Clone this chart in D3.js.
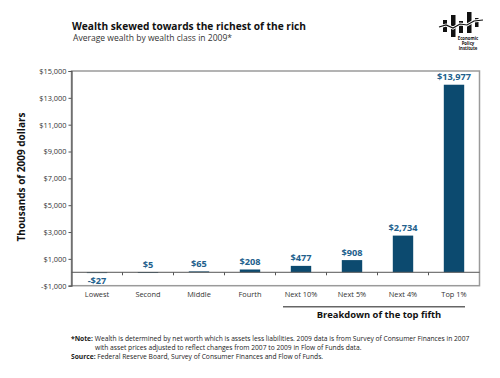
<!DOCTYPE html>
<html><head><meta charset="utf-8">
<script src="https://cdn.jsdelivr.net/npm/d3@7"></script>
<style>body{margin:0;background:#fff}svg{display:block}text{font-family:"Open Sans",sans-serif}</style>
</head><body><svg id="c" width="500" height="378"></svg>
<script>
const categories = ["Lowest","Second","Middle","Fourth","Next 10%","Next 5%","Next 4%","Top 1%"];
const values = [-27,5,65,208,477,908,2734,13977];
const valueLabels = ["-$27","$5","$65","$208","$477","$908","$2,734","$13,977"];
const yTicks = [-1000,1000,3000,5000,7000,9000,11000,13000,15000];

const svg = d3.select("#c");
const L=71.5,R=479.5,T=71,B=285.7;
const x = d3.scaleBand().domain(categories).range([L,R]).paddingInner(0.6).paddingOuter(0.3);
const y = d3.scaleLinear().domain([-1000,15000]).range([B,T]);
const barColor="#0c4a6f", labColor="#22608c";

// titles
svg.append("text").attr("x",72).attr("y",29.5).attr("font-size",11.4).attr("font-weight","bold").attr("fill","#111")
  .attr("textLength",234).attr("lengthAdjust","spacingAndGlyphs")
  .text("Wealth skewed towards the richest of the rich");
svg.append("text").attr("x",73).attr("y",41).attr("font-size",9.3).attr("fill","#333")
  .attr("textLength",159).attr("lengthAdjust","spacingAndGlyphs")
  .text("Average wealth by wealth class in 2009*");

// logo
const lg=svg.append("g");
[[443,20,4,12],[451,15,4.5,22],[459,21,4,12],[467,12,4.5,21],[475,18,3.5,9]].forEach(r=>
  lg.append("rect").attr("x",r[0]).attr("y",r[1]).attr("width",r[2]).attr("height",r[3]).attr("fill","#111"));
const lp="M439,27 L446,25 L453,28 L460,24 L467,25 L474,21 L483,20";
lg.append("path").attr("d",lp).attr("fill","none").attr("stroke","#fff").attr("stroke-width",3);
lg.append("path").attr("d",lp).attr("fill","none").attr("stroke","#111").attr("stroke-width",1.2);
["Economic","Policy","Institute"].forEach((t,i)=>
  lg.append("text").attr("x",468).attr("y",40+i*5).attr("text-anchor","middle").attr("font-size",4.3)
    .attr("font-weight","bold").attr("fill","#111").text(t));

// frame
svg.append("rect").attr("x",L).attr("y",T).attr("width",R-L).attr("height",B-T)
  .attr("fill","none").attr("stroke","#9a9a9a").attr("stroke-width",1.5);

// y axis
const ya = svg.append("g").attr("transform",`translate(${L},0)`)
  .call(d3.axisLeft(y).tickValues(yTicks).tickSize(3).tickPadding(2).tickFormat(d=>(d<0?"-$":"$")+d3.format(",")(Math.abs(d))));
ya.select(".domain").attr("stroke","#555").attr("stroke-width",1.2);
ya.selectAll(".tick line").attr("stroke","#555");
ya.selectAll(".tick text").attr("font-size",7.4).attr("fill","#333").attr("font-family","'Open Sans',sans-serif");

svg.append("text").attr("transform","translate(25,177) rotate(-90)").attr("text-anchor","middle")
  .attr("font-size",10).attr("font-weight","bold").attr("fill","#111").text("Thousands of 2009 dollars");

// bars
svg.append("g").selectAll("rect").data(values).join("rect")
  .attr("x",(d,i)=>x(categories[i])).attr("width",x.bandwidth())
  .attr("y",d=>y(Math.max(0,d))).attr("height",d=>Math.max(0.8,Math.abs(y(d)-y(0))))
  .attr("fill",barColor);

// zero line
svg.append("line").attr("x1",L).attr("x2",R).attr("y1",y(0)).attr("y2",y(0)).attr("stroke","#555").attr("stroke-width",1);
// category boundary ticks
const step = x.step();
d3.range(1,categories.length).forEach(k=>{
  const xx = L + k*step;
  svg.append("line").attr("x1",xx).attr("x2",xx).attr("y1",y(0)).attr("y2",y(0)+3).attr("stroke","#555");
});

// value labels
svg.append("g").selectAll("text").data(values).join("text")
  .attr("x",(d,i)=>x(categories[i])+x.bandwidth()/2)
  .attr("y",d=> d<0 ? y(0)+12 : y(d)-4.5)
  .attr("text-anchor","middle").attr("font-size",9.2).attr("font-weight","bold").attr("fill",labColor)
  .text((d,i)=>valueLabels[i]);

// category labels
svg.append("g").selectAll("text").data(categories).join("text")
  .attr("x",d=>x(d)+x.bandwidth()/2).attr("y",297)
  .attr("text-anchor","middle").attr("font-size",7.4).attr("fill","#333").text(d=>d);

// breakdown bracket
svg.append("line").attr("x1",283).attr("x2",465).attr("y1",306.7).attr("y2",306.7).attr("stroke","#666").attr("stroke-width",1.5);
svg.append("text").attr("x",379).attr("y",318).attr("text-anchor","middle").attr("font-size",9.4)
  .attr("font-weight","bold").attr("fill","#111").text("Breakdown of the top fifth");

// notes
const n1 = svg.append("text").attr("x",71).attr("y",340.5).attr("font-size",6.7).attr("fill","#222");
n1.append("tspan").attr("font-weight","bold").text("*Note: ");
n1.append("tspan").text("Wealth is determined by net worth which is assets less liabilities. 2009 data is from Survey of Consumer Finances in 2007");
svg.append("text").attr("x",95).attr("y",349.5).attr("font-size",6.7).attr("fill","#222")
  .text("with asset prices adjusted to reflect changes from 2007 to 2009 in Flow of Funds data.");
const n3 = svg.append("text").attr("x",71).attr("y",359).attr("font-size",6.7).attr("fill","#222");
n3.append("tspan").attr("font-weight","bold").text("Source: ");
n3.append("tspan").text("Federal Reserve Board, Survey of Consumer Finances and Flow of Funds.");
</script></body></html>
